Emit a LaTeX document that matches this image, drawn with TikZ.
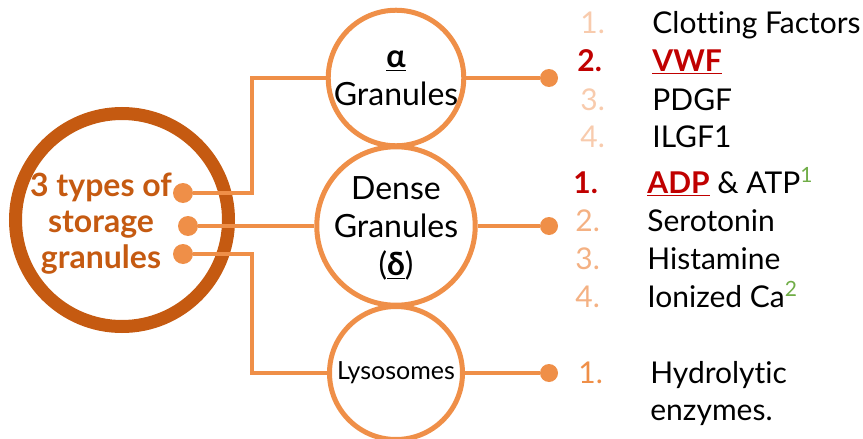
\documentclass[tikz,border=0pt]{standalone}
\usepackage{fontspec}
\setmainfont{Lato}[Ligatures=NoCommon]
\usetikzlibrary{positioning}

\definecolor{darkorange}{HTML}{C55A11}
\definecolor{lineorange}{HTML}{EF8F48}
\definecolor{peachpale}{HTML}{F8CBAD}
\definecolor{peachmid}{HTML}{F4B183}
\definecolor{darkred}{HTML}{C00000}
\definecolor{supgreen}{HTML}{70AD47}

\begin{document}
\begin{tikzpicture}[x=0.5pt,y=-0.5pt,
  ring/.style={circle,draw=lineorange,line width=2.5pt,minimum size=66.5pt,
    inner sep=0pt,align=center,font=\fontsize{16}{19}\selectfont},
  knob/.style={circle,fill=lineorange,inner sep=0pt,minimum size=#1},
  knob/.default=10pt,
  link/.style={draw=lineorange,line width=1.8pt},
  num/.style={anchor=base west,inner sep=0pt,font=\fontsize{15}{19}\selectfont},
  item/.style={anchor=base west,inner sep=0pt,font=\fontsize{15}{19}\selectfont}]
\useasboundingbox (0,0) rectangle (863,439);

% big circle and its label
\node[circle,draw=darkorange,line width=6.5pt,minimum size=106.5pt,inner sep=0pt] (main) at (122,220) {};
\node[align=center,text=darkorange,font=\bfseries\fontsize{16}{18}\selectfont] (mainlbl) at (101,224)
  {3 types of\\storage\\granules};

% the three granule circles
\node[ring] (alpha) at (396,78) {\textbf{\underline{α}}\\Granules};
\node[ring,text depth=0pt] (dense) at (396,226) {Dense\\Granules\\(\textbf{\underline{δ}})};
\node[ring,font=\fontsize{12.5}{15}\selectfont] (lyso) at (396,373) {Lysosomes};

% dots and bends
\node[knob] (d1) at (183,193) {};
\node[knob] (d2) at (188,226) {};
\node[knob] (d3) at (183,254) {};
\coordinate (j1) at (252,193);
\coordinate (j3) at (252,254);

\node[knob=9pt] (ka) at (549,78) {};
\node[knob=9pt] (kd) at (549,226) {};
\node[knob=9pt] (kl) at (549,373) {};

\draw[link] (d1) -- (j1) |- (alpha);
\draw[link] (d2) -- (dense);
\draw[link] (d3) -- (j3) |- (lyso);
\draw[link] (alpha) -- (ka);
\draw[link] (dense) -- (kd);
\draw[link] (lyso) -- (kl);

% alpha granule contents
\node[num,text=peachpale] (a1) at (580,33) {1.};
\node[item] (a1t) at (652,33) {Clotting Factors};
\node[num,text=darkred,font=\bfseries\fontsize{15}{19}\selectfont] (a2) at (577,71) {2.};
\node[item,text=darkred] (a2t) at (652,71) {\textbf{\underline{VWF}}};
\node[num,text=peachpale] (a3) at (580,110) {3.};
\node[item] (a3t) at (652,110) {PDGF};
\node[num,text=peachpale] (a4) at (580,147) {4.};
\node[item] (a4t) at (652,147) {ILGF1};

% dense granule contents
\node[num,text=darkred,font=\bfseries\fontsize{15}{19}\selectfont] (b1) at (573,193) {1.};
\node[item] (b1t) at (647,193) {\textcolor{darkred}{\textbf{\underline{ADP}}} \& ATP\textsuperscript{\color{supgreen}1}};
\node[num,text=peachmid] (b2) at (575,231) {2.};
\node[item] (b2t) at (647,231) {Serotonin};
\node[num,text=peachmid] (b3) at (575,269) {3.};
\node[item] (b3t) at (647,269) {Histamine};
\node[num,text=peachmid] (b4) at (575,307) {4.};
\node[item] (b4t) at (647,307) {Ionized Ca\textsuperscript{\color{supgreen}2}};

% lysosome contents
\node[num,text=lineorange] (c1) at (578,383) {1.};
\node[item] (c1t) at (650,383) {Hydrolytic};
\node[item] (c1u) at (650,420) {enzymes.};
\end{tikzpicture}
\end{document}
